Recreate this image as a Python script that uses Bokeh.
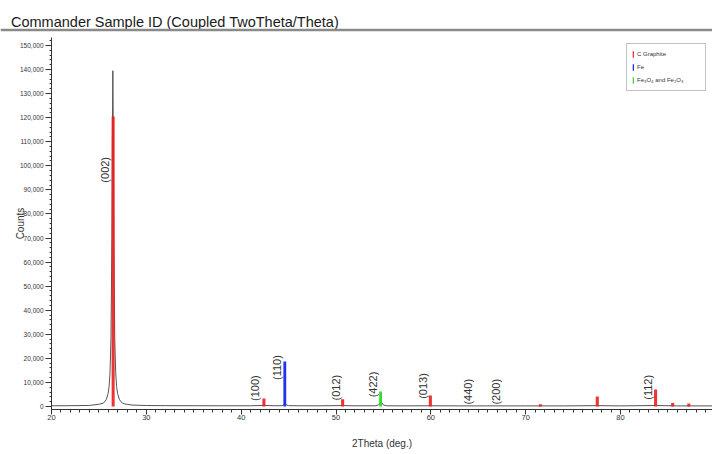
import math
from bokeh.plotting import figure
from bokeh.models import Range1d, NumeralTickFormatter, Legend, LegendItem, FixedTicker
from bokeh.layouts import column
from bokeh.core.properties import value
from bokeh.embed import file_html
from bokeh.resources import INLINE

FONT = "Liberation Sans"
title_text = "Commander Sample ID (Coupled TwoTheta/Theta)"

meas_x = [20.0, 21.5, 23.0, 24.0, 24.97, 25.47, 25.77, 25.97, 26.07, 26.17, 26.27, 26.37,
          26.42, 26.47, 26.52, 26.57, 26.67, 26.77, 26.87, 26.97, 27.17, 27.47, 27.7,
          27.97, 28.5, 29.2, 30.0, 32.0, 35.0, 38.0, 41.0, 42.4, 43.5, 44.3, 44.65,
          45.0, 46.0, 48.0, 50.7, 52.0, 54.2, 54.5, 54.75, 55.0, 55.3, 57.0, 60.0,
          63.0, 66.0, 70.0, 74.0, 77.5, 80.0, 83.7, 86.0, 89.7]
meas_y = [300, 320, 380, 450, 900, 1400, 2800, 5400, 8200, 14000, 28000, 70000,
          111000, 139500, 111000, 70000, 28000, 14000, 8200, 5400, 2800, 1400, 1100,
          900, 600, 500, 400, 350, 320, 300, 300, 450, 300, 350, 900,
          350, 300, 280, 380, 280, 300, 700, 2000, 600, 300, 260, 300,
          250, 250, 250, 250, 350, 250, 400, 250, 250]

# reference patterns (stick positions and heights)
graphite_x = [26.5, 42.4, 50.7, 59.95, 71.55, 77.55, 83.7, 85.5, 87.2]
graphite_y = [120500, 3300, 3000, 4600, 900, 4200, 7100, 1400, 1200]
fe_x = [44.6]
fe_y = [18700]
feox_x = [54.7]
feox_y = [6200]

legend_labels = ["C Graphite", "Fe", "Fe\u2083O\u2084 and Fe\u2082O\u2083"]

# hkl annotations: text, 2Theta, counts at text start
hkl_text = ["(002)", "(100)", "(110)", "(012)", "(422)", "(013)", "(440)", "(200)", "(112)"]
hkl_x = [25.6, 41.5, 43.75, 49.95, 53.9, 59.2, 63.9, 66.9, 82.95]
hkl_y = [93000, 2300, 11000, 2500, 3800, 3200, 800, 800, 2800]

x_ticks = [20, 30, 40, 50, 60, 70, 80, 90]
x_minor = list(range(20, 91))
y_ticks = list(range(0, 150001, 10000))
y_minor = list(range(0, 154001, 2000))

# ---- header: title and grey rule ----
h = figure(width=712, height=37, x_range=Range1d(0, 712), y_range=Range1d(0, 37),
           toolbar_location=None, output_backend="svg", min_border=0,
           x_axis_type=None, y_axis_type=None, frame_align=False)
h.grid.visible = False
h.outline_line_color = None
h.text(x=[10.5], y=[15.5], text=[title_text], text_font=value(FONT), text_font_size="14.5px",
       text_baseline="alphabetic", text_align="left", text_color="#1a1a1a")
h.segment(x0=[0], y0=[7.5], x1=[712], y1=[7.5], line_color="#8a8a8a", line_width=2.5)

# ---- main plot ----
p = figure(width=712, height=417, x_range=Range1d(20, 89.7), y_range=Range1d(-1250, 153300),
           toolbar_location=None, output_backend="svg", frame_align=False,
           min_border_left=51, min_border_right=0, min_border_top=0, min_border_bottom=45)
p.grid.visible = False
p.outline_line_color = None

p.line(meas_x, meas_y, line_color="#555555", line_width=1)

r_gr = p.vbar(x=graphite_x, top=graphite_y, bottom=0, width=0.32, fill_color="#ee1c1c",
              line_color=None, fill_alpha=0.9)
r_fe = p.vbar(x=fe_x, top=fe_y, bottom=0, width=0.3, fill_color="#2233ee", line_color=None)
r_ox = p.vbar(x=feox_x, top=feox_y, bottom=0, width=0.3, fill_color="#33dd33", line_color=None)

p.text(x=hkl_x, y=hkl_y, text=hkl_text, angle=math.pi / 2, text_align="left",
       text_baseline="middle", text_font_size="11px", text_color="#333333",
       text_font=value(FONT))

xa = p.xaxis[0]
xa.ticker = FixedTicker(ticks=x_ticks, minor_ticks=x_minor)
xa.axis_label = "2Theta (deg.)"
xa.axis_label_text_font = FONT
xa.axis_label_text_font_size = "10px"
xa.axis_label_text_font_style = "normal"
xa.axis_label_text_color = "#333333"
xa.axis_label_standoff = 15
xa.major_label_text_font = FONT
xa.major_label_text_font_size = "7.5px"
xa.major_label_text_color = "#333333"
xa.major_label_standoff = 0
xa.major_tick_out = 5
xa.major_tick_in = 0
xa.minor_tick_out = 3
xa.minor_tick_in = 0
xa.axis_line_color = "#333333"
xa.major_tick_line_color = "#333333"
xa.minor_tick_line_color = "#333333"

ya = p.yaxis[0]
ya.ticker = FixedTicker(ticks=y_ticks, minor_ticks=y_minor)
ya.formatter = NumeralTickFormatter(format="0,0")
ya.axis_label = "Counts"
ya.axis_label_text_font = FONT
ya.axis_label_text_font_size = "10px"
ya.axis_label_text_font_style = "normal"
ya.axis_label_text_color = "#333333"
ya.axis_label_standoff = -9
ya.major_label_text_font = FONT
ya.major_label_text_font_size = "6.5px"
ya.major_label_text_color = "#333333"
ya.major_label_standoff = 2
ya.major_tick_out = 6
ya.major_tick_in = 0
ya.minor_tick_out = 2
ya.minor_tick_in = 0
ya.axis_line_color = "#333333"
ya.major_tick_line_color = "#333333"
ya.minor_tick_line_color = "#333333"

legend = Legend(items=[LegendItem(label=legend_labels[0], renderers=[r_gr]),
                       LegendItem(label=legend_labels[1], renderers=[r_fe]),
                       LegendItem(label=legend_labels[2], renderers=[r_ox])],
                location="top_right", margin=6, padding=5, spacing=3,
                glyph_width=2, glyph_height=8, label_height=10, label_width=63,
                label_standoff=3, label_text_font=FONT, label_text_font_size="6px",
                label_text_color="#333333", border_line_color="#888888",
                border_line_width=1, background_fill_color="white", background_fill_alpha=1)
p.add_layout(legend)

layout = column(h, p)
open("out.html", "w").write(file_html(layout, INLINE))
